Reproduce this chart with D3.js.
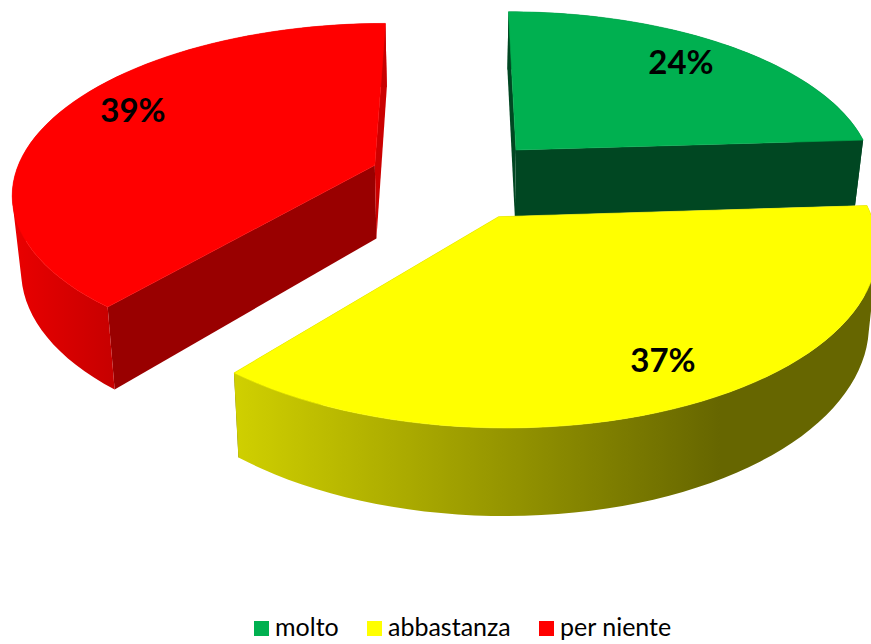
<!DOCTYPE html>
<html>
<head>
<meta charset="utf-8">
<script src="https://cdn.jsdelivr.net/npm/d3@7"></script>
<style>
  html, body { margin: 0; padding: 0; background: #fff; overflow: hidden; }
  svg { display: block; }
  text { font-family: Lato, "Open Sans", sans-serif; fill: #000; }
</style>
</head>
<body>
<svg width="871" height="644"></svg>
<script>
const categories = ["molto", "abbastanza", "per niente"];
const percentages = [24, 37, 39];
const topColors = ["#00b050", "#ffff00", "#ff0000"];
const cutColors = ["#004722", "#666600", "#990000"];
const wallStops = [
    ["#004722", "#004722"],
    ["#d0d000", "#666600"],
    ["#ea0000", "#c80000"]
];

const width = 871, height = 644;
const svg = d3.select("svg");
const defs = svg.append("defs");

// camera for the tilted disc
const cx = 457, cy = 179, rx = 361, ry = 167, persp = 0.15;
const explode = 0.245, shrink = 0.98;
const depths = [68, 72, 74];

function project(u, v, low, i) {
    const s = 1 / (1 - persp * v);
    const x = cx + s * rx * u;
    const y = cy + s * ry * v;
    if (!low) return [x, y];
    return [cx + (x - cx) * shrink, y + depths[i] * s];
}

const pie = d3.pie().sort(null).value(d => d);
const arcs = pie(percentages).map((a, i) => ({ ...a, i }));
const line = d3.line();

function slicePoints(a, low) {
    const mid = (a.startAngle + a.endAngle) / 2;
    const u0 = explode * Math.sin(mid), v0 = -explode * Math.cos(mid);
    const steps = d3.range(0, 61).map(k => a.startAngle + (a.endAngle - a.startAngle) * k / 60);
    return {
        apex: project(u0, v0, low, a.i),
        rim: steps.map(t => project(u0 + Math.sin(t), v0 - Math.cos(t), low, a.i))
    };
}

// green and red sit behind the yellow slice
const layers = svg.append("g").selectAll("g")
    .data([arcs[0], arcs[2], arcs[1]])
    .enter().append("g");

layers.each(function(a) {
    const g = d3.select(this);
    const up = slicePoints(a, false);
    const dn = slicePoints(a, true);
    const first = up.rim[0], last = up.rim[60];
    const firstL = dn.rim[0], lastL = dn.rim[60];

    // cut faces
    g.append("path")
        .attr("d", line([up.apex, first, firstL, dn.apex]) + "Z")
        .attr("fill", cutColors[a.i]);
    g.append("path")
        .attr("d", line([up.apex, last, lastL, dn.apex]) + "Z")
        .attr("fill", a.i === 2 ? "#cc0000" : cutColors[a.i]);

    // outer wall with its horizontal shading
    const id = "wall" + a.i;
    const xs = up.rim.map(p => p[0]);
    const lg = defs.append("linearGradient").attr("id", id)
        .attr("gradientUnits", "userSpaceOnUse")
        .attr("x1", d3.min(xs)).attr("x2", a.i === 1 ? 720 : a.i === 2 ? 110 : d3.max(xs))
        .attr("y1", 0).attr("y2", 0);
    lg.append("stop").attr("offset", 0).attr("stop-color", wallStops[a.i][0]);
    lg.append("stop").attr("offset", 1).attr("stop-color", wallStops[a.i][1]);

    // one quad per rim step, same winding, so the silhouette edges get filled too
    const quads = d3.range(60).map(k => {
        const q = [up.rim[k], up.rim[k + 1], dn.rim[k + 1], dn.rim[k]];
        if (d3.polygonArea(q) < 0) q.reverse();
        return line(q) + "Z";
    });
    g.append("path")
        .attr("d", quads.join(""))
        .attr("fill", `url(#${id})`);

    // top face
    g.append("path")
        .attr("d", line([up.apex].concat(up.rim)) + "Z")
        .attr("fill", topColors[a.i])
        .attr("stroke", topColors[a.i])
        .attr("stroke-width", 0.6);
});

// percentage labels
const labelX = d3.scaleOrdinal().domain(categories).range([681, 663, 133]);
const labelY = d3.scaleOrdinal().domain(categories).range([74, 372, 122]);
svg.append("g").selectAll("text")
    .data(categories)
    .enter().append("text")
    .attr("x", d => labelX(d))
    .attr("y", d => labelY(d))
    .attr("text-anchor", "middle")
    .style("font-size", "33px")
    .style("font-weight", "bold")
    .text((d, i) => percentages[i] + "%");

// legend
const legendX = d3.scaleOrdinal().domain(categories).range([254, 367, 539]);
const legend = svg.append("g").selectAll("g")
    .data(categories)
    .enter().append("g")
    .attr("transform", d => `translate(${legendX(d)},621)`);
legend.append("rect")
    .attr("width", 15).attr("height", 15)
    .attr("fill", (d, i) => topColors[i]);
legend.append("text")
    .attr("x", 21).attr("y", 15)
    .style("font-size", "25px")
    .text(d => d);
</script>
</body>
</html>
